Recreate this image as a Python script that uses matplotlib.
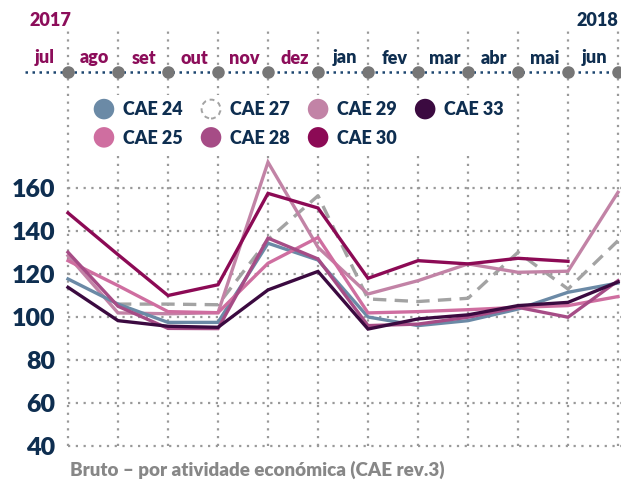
import numpy as np
import matplotlib
matplotlib.use('Agg')
import matplotlib.pyplot as plt
import matplotlib.patches as mpatches
from matplotlib.legend_handler import HandlerBase
from matplotlib.lines import Line2D

plt.rcParams['font.family'] = ['Lato', 'DejaVu Sans']
plt.rcParams['font.weight'] = 'bold'

nan = np.nan
months = ['jul', 'ago', 'set', 'out', 'nov', 'dez', 'jan', 'fev', 'mar', 'abr', 'mai', 'jun']
years = ['2017', '2018']

cae24 = [117.7, 106, 97.5, 97.5, 134.3, 126.5, 100, 96, 98.3, 103.7, 111.5, 115.8]
cae25 = [126.2, 114.6, 102.5, 102, 125, 137, 101.9, 102.5, 103.4, 104.5, 105.3, 109.5]
cae27 = [nan, 106, 106, 105.7, 136, 156.4, 108.4, 107.2, 108.7, 130.1, 113, 135.5]
cae28 = [130.1, 105, 94.7, 94.6, 136.7, 127, 96, 96.7, 99.9, 104.5, 99.9, 116.9]
cae29 = [128.5, 101.9, 101.5, 102, 172, 132.4, 110.7, 116.9, 124.7, 120.8, 121.3, 158]
cae30 = [148.4, 129, 110, 115, 157.5, 150.7, 118, 126.2, 124.7, 127.3, 125.9, nan]
cae33 = [113.8, 98.3, 95.7, 95.2, 112.6, 121.2, 94.4, 99.1, 101, 105.3, 106.8, 116.3]

yticks = [40, 60, 80, 100, 120, 140, 160]

navy = '#0e2e50'
magenta = '#8c0d5a'
grid_c = '#999999'

series = [  # label, data, colour, dashed
    ('CAE 24', cae24, '#6b8aa6', False),
    ('CAE 25', cae25, '#cf6ea0', False),
    ('CAE 27', cae27, '#a3a3a3', True),
    ('CAE 28', cae28, '#a64c86', False),
    ('CAE 29', cae29, '#c283a6', False),
    ('CAE 30', cae30, '#8c0a55', False),
    ('CAE 33', cae33, '#3b0a40', False),
]
draw_order = ['CAE 27', 'CAE 29', 'CAE 24', 'CAE 25', 'CAE 28', 'CAE 33', 'CAE 30']

W, H = 621, 480
fig = plt.figure(figsize=(W / 100, H / 100), dpi=100)
# axes spans from first month line (x=68) to last (x=618), y from 446 down to 30 px
ax = fig.add_axes([68 / W, (H - 446) / H, 550 / W, 416 / H])
ppu = 2.15  # pixels per unit on the y scale
ytop = 40 + 416 / ppu
ax.set_xlim(0, 11)
ax.set_ylim(40, ytop)
for s in ax.spines.values():
    s.set_visible(False)
ax.set_xticks([])
ax.set_yticks(yticks)
ax.set_yticklabels([str(v) for v in yticks], fontsize=18, color=navy, fontweight='heavy')
ax.tick_params(axis='y', length=0, pad=9)

def y_of(px):  # pixel row -> data value
    return 40 + (446 - px) / ppu

# grid
xr = 11 * 553 / 550
for v in yticks:
    ax.plot([0, xr], [v, v], ls=(0, (1, 2.5)), color=grid_c, lw=1.6, clip_on=False, zorder=1)
for i in range(12):
    ax.plot([i, i], [40, ytop], ls=(0, (1, 2.5)), color=grid_c, lw=1.6, clip_on=False, zorder=1)

# timeline
ty = y_of(72)
ax.plot([-43 / 50, xr], [ty, ty], ls=(0, (1, 1.8)), color='#1d4670', lw=1.8, clip_on=False, zorder=2)
ax.plot(range(12), [ty] * 12, 'o', ms=8, color='#777777', clip_on=False, zorder=3)
for i, m in enumerate(months):
    ax.text(i - 0.47, y_of(58), m, ha='center', va='center', fontsize=13,
            color=magenta if i < 6 else navy, fontweight='heavy')
ax.text(-0.36, y_of(20), years[0], ha='center', va='center', fontsize=13, color=magenta, fontweight='heavy')
ax.text(10.58, y_of(20), years[1], ha='center', va='center', fontsize=13, color=navy, fontweight='heavy')

# lines
x = np.arange(12)
lookup = {s[0]: s for s in series}
for name in draw_order:
    lab, d, c, dashed = lookup[name]
    ax.plot(x, d, color=c, lw=2.4, ls=(0, (4, 2.5)) if dashed else '-', zorder=4,
            solid_joinstyle='miter', clip_on=False)

# legend with round dots
class HandlerDot(HandlerBase):
    def create_artists(self, legend, orig, xd, yd, width, height, fontsize, trans):
        r = 7.4
        cx, cy = width / 2 - xd, height / 2 - yd
        if orig.get_linestyle() == '--':
            p = mpatches.Circle((cx, cy), r - 0.6, facecolor='white', edgecolor=orig.get_color(),
                                lw=1.4, ls=(0, (2.5, 2)), transform=trans)
        else:
            p = mpatches.Circle((cx, cy), r, facecolor=orig.get_color(), edgecolor='none', transform=trans)
        return [p]

handles = [Line2D([], [], color=c, ls='--' if dsh else '-') for _, _, c, dsh in series]
labels = [s[0] for s in series]
leg = fig.legend(handles, labels, handler_map={Line2D: HandlerDot()}, ncol=4,
                 loc='upper left', bbox_to_anchor=(88 / W, (H - 95) / H),
                 fontsize=13, frameon=True, facecolor='white', edgecolor='none', framealpha=1,
                 borderpad=0.3, borderaxespad=0, handlelength=1.17, handleheight=1.1,
                 handletextpad=0.45, columnspacing=1.0, labelspacing=0.58, fancybox=False)
for t in leg.get_texts():
    t.set_color(navy)
    t.set_fontweight('heavy')
leg.set_zorder(5)

fig.text(70 / W, (H - 470) / H, 'Bruto – por atividade económica (CAE rev.3)', ha='left', va='center',
         fontsize=13.5, color='#878787', fontweight='heavy')

fig.savefig('out.png', dpi=100)
